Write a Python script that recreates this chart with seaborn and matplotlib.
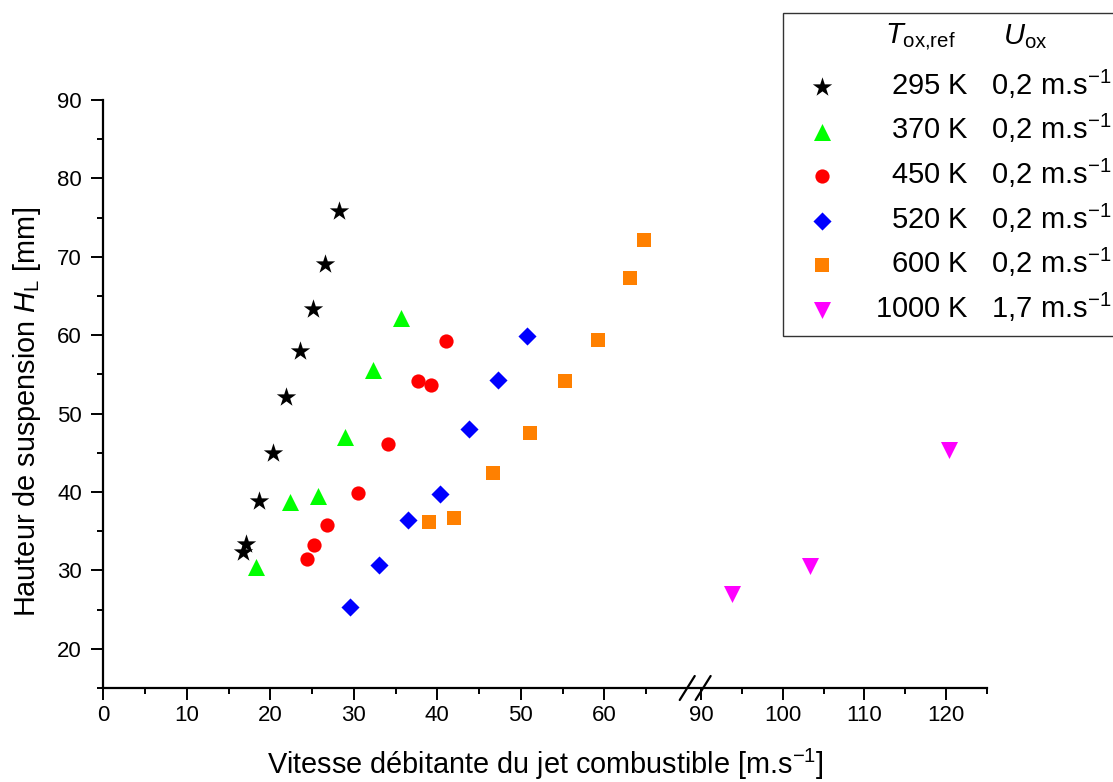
import numpy as np
import pandas as pd
import matplotlib
matplotlib.use("Agg")
import matplotlib.pyplot as plt
import seaborn as sns

v_295 = [16.7, 17.1, 18.7, 20.3, 21.9, 23.5, 25.1, 26.6, 28.2]
h_295 = [32.3, 33.4, 38.8, 45.0, 52.1, 58.0, 63.3, 69.1, 75.9]
v_370 = [18.25, 22.4, 25.7, 29.0, 32.3, 35.6]
h_370 = [30.4, 38.7, 39.5, 47.0, 55.5, 62.2]
v_450 = [24.35, 25.2, 26.75, 30.5, 34.1, 37.65, 39.3, 41.0]
h_450 = [31.4, 33.25, 35.85, 39.85, 46.1, 54.1, 53.7, 59.2]
v_520 = [29.5, 33.05, 36.5, 40.3, 43.8, 47.3, 50.7]
h_520 = [25.3, 30.65, 36.45, 39.7, 48.0, 54.3, 59.9]
v_600 = [39.0, 42.0, 46.7, 51.1, 55.3, 59.3, 63.1, 64.8]
h_600 = [36.15, 36.7, 42.4, 47.5, 54.1, 59.45, 67.25, 72.2]
v_1000 = [93.8, 103.3, 120.35]
h_1000 = [26.95, 30.5, 45.3]

temperatures = ["295 K", "370 K", "450 K", "520 K", "600 K", "1000 K"]
u_ox = ["0,2", "0,2", "0,2", "0,2", "0,2", "1,7"]

x_ticks = [0, 10, 20, 30, 40, 50, 60, 90, 100, 110, 120]
x_minor = [5, 15, 25, 35, 45, 55, 65, 95, 105, 115, 125]
y_ticks = [20, 30, 40, 50, 60, 70, 80, 90]

series = [(v_295, h_295), (v_370, h_370), (v_450, h_450),
          (v_520, h_520), (v_600, h_600), (v_1000, h_1000)]
df = pd.concat([pd.DataFrame({"v": v, "h": h, "T": t})
                for (v, h), t in zip(series, temperatures)], ignore_index=True)

farben = ["#000000", "#00FF00", "#FF0000", "#0000FF", "#FF8000", "#FF00FF"]
marker = ["*", "^", "o", "D", "s", "v"]
groesse = [215, 150, 105, 85, 90, 150]

sns.set_style("ticks")
plt.rcParams["font.family"] = ["Liberation Sans", "DejaVu Sans"]
plt.rcParams["mathtext.fontset"] = "custom"
plt.rcParams["mathtext.rm"] = "Liberation Sans"
plt.rcParams["mathtext.it"] = "Liberation Sans:italic"
for key in ["text.color", "axes.labelcolor", "xtick.color", "ytick.color", "axes.edgecolor"]:
    plt.rcParams[key] = "black"


# gebrochene x-Achse: 70..90 wird zusammengedrueckt
def vorwaerts(x):
    x = np.asarray(x, dtype=float)
    return np.where(x <= 70, x, np.where(x < 90, 70 + (x - 70) * 0.08, 71.6 + (x - 90) * 0.977))


def rueckwaerts(y):
    y = np.asarray(y, dtype=float)
    return np.where(y <= 70, y, np.where(y < 71.6, 70 + (y - 70) / 0.08, 90 + (y - 71.6) / 0.977))


fig = plt.figure(figsize=(11.13, 7.82), dpi=100)
ax = fig.add_axes([103.3 / 1113, 1 - 688 / 782, 883.4 / 1113, 588 / 782])
ax.set_xscale("function", functions=(vorwaerts, rueckwaerts))

handles = []
for t, c, m, s in zip(temperatures, farben, marker, groesse):
    sub = df[df["T"] == t]
    sns.scatterplot(data=sub, x="v", y="h", color=c, marker=m, s=s,
                    linewidth=0, ax=ax, legend=False, clip_on=False)
    handles.append(ax.collections[-1])

ax.set_xlim(0, 125)
ax.set_ylim(15, 90)
ax.set_xticks(x_ticks)
ax.set_xticklabels([str(t) for t in x_ticks])
ax.set_xticks(x_minor, minor=True)
ax.set_yticks(y_ticks)
ax.set_yticks(np.arange(15, 91, 5), minor=True)
ax.tick_params(which="major", direction="out", length=8.5, width=1.4, labelsize=16)
ax.tick_params(which="minor", direction="out", length=4, width=1.4)
ax.tick_params(axis="x", which="major", pad=4)
ax.tick_params(axis="y", which="major", pad=7)
for side in ["top", "right"]:
    ax.spines[side].set_visible(False)
for side in ["left", "bottom"]:
    ax.spines[side].set_linewidth(1.6)

ax.set_xlabel("Vitesse débitante du jet combustible [m.s$^{-1}$]", fontsize=20.8, labelpad=14.5)
ax.set_ylabel("Hauteur de suspension $H_{\\mathrm{L}}$ [mm]", fontsize=20.8)
ax.yaxis.set_label_coords(-0.068, 0.47)

# Bruchzeichen auf der x-Achse
for xm in [0.661, 0.679]:
    ax.plot([xm - 0.0085, xm + 0.0085], [-0.0204, 0.0204], color="black", lw=1.6,
            transform=ax.transAxes, clip_on=False)

labels = ["\u2007" * (6 - len(t)) + t + "   " + u + " m.s$^{-1}$"
          for t, u in zip(temperatures, u_ox)]
leg = fig.legend(handles, labels, loc="upper left", bbox_to_anchor=(783 / 1113, 1 - 13 / 782),
                 fontsize=21, frameon=True, fancybox=False, framealpha=1, borderpad=0.42,
                 borderaxespad=0, handlelength=1.85, handletextpad=0.9, labelspacing=0.39,
                 title=" ", title_fontsize=24)
leg.get_frame().set_edgecolor("#333333")
leg.get_frame().set_linewidth(1.0)

fig.text(885 / 1113, 1 - 44 / 782, r"$T_{\mathrm{ox{,}ref}}$", fontsize=21, va="baseline", zorder=10)
fig.text(1003 / 1113, 1 - 44 / 782, r"$U_{\mathrm{ox}}$", fontsize=21, va="baseline", zorder=10)

fig.savefig("out.png", dpi=100)
